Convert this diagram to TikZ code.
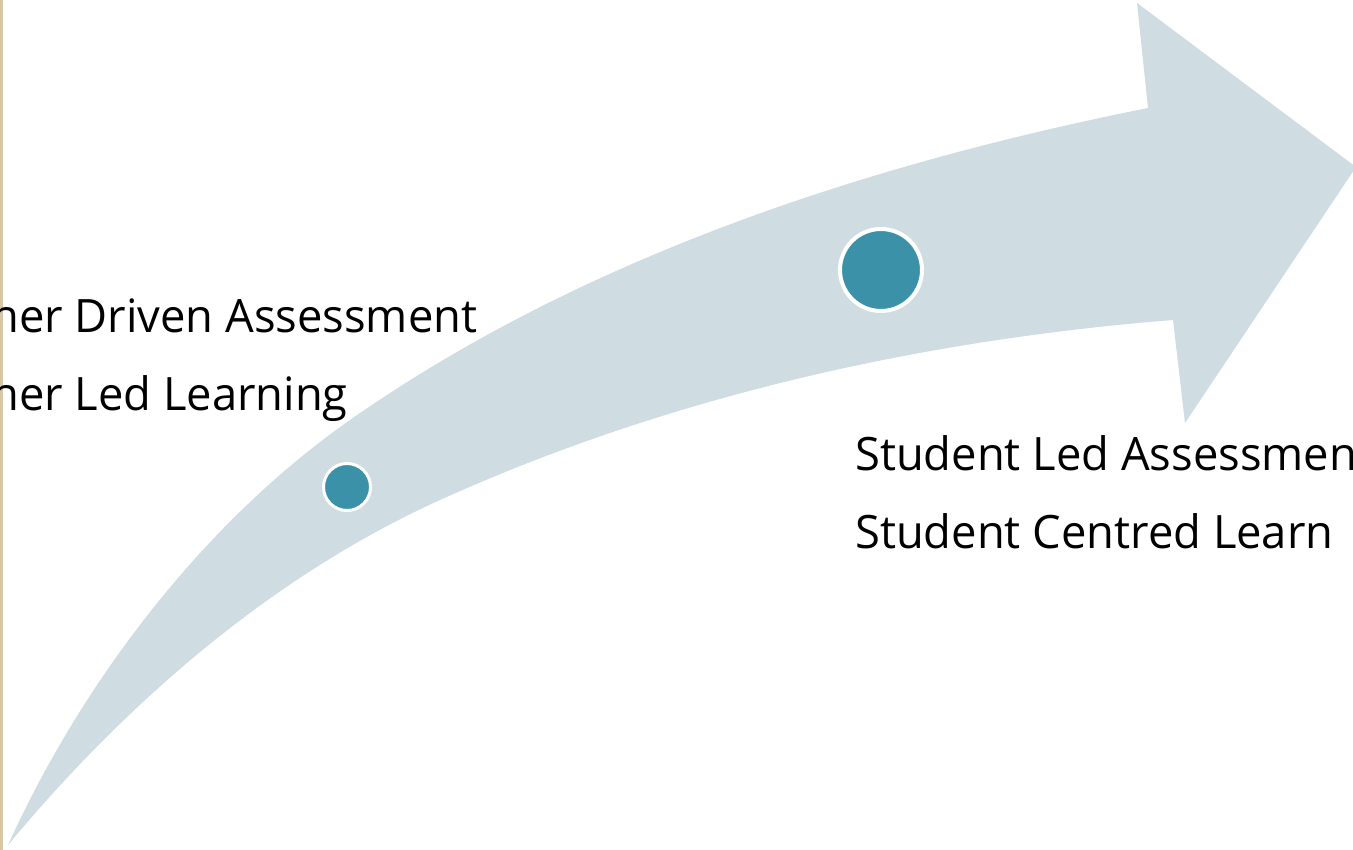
\documentclass[tikz,border=0pt]{standalone}
\usepackage{fontspec}
\setmainfont{Open Sans}[FakeStretch=0.985]
\definecolor{arrowfill}{RGB}{207,220,226}
\definecolor{dotfill}{RGB}{58,145,168}
\definecolor{stripcol}{RGB}{214,200,166}
\begin{document}
\begin{tikzpicture}[x=1pt,y=-1pt,
  lbl/.style={font=\fontsize{46}{50}\selectfont, inner sep=0pt, anchor=base west, text=black},
  dot/.style={circle, fill=dotfill, draw=white, inner sep=0pt}]
\useasboundingbox (0,0) rectangle (1353,850);
\fill[white] (0,0) rectangle (1353,850);
\fill[stripcol] (0,0) rectangle (3,850);
% curved arrow
\fill[arrowfill] (8,845) .. controls (82,682) and (203,523) .. (350,420)
  .. controls (583,257) and (868,164) .. (1148,108)
  -- (1137,3) -- (1356,167) -- (1185,423) -- (1173,320)
  .. controls (922,340) and (670,396) .. (440,500)
  .. controls (272,576) and (126,703) .. (8,845) -- cycle;
% dots
\node[dot, minimum size=47pt, line width=3pt] (d1) at (347,487) {};
\node[dot, minimum size=82pt, line width=4pt] (d2) at (881,270) {};
% texts
\node[lbl] (t1) at (-9,333) {her Driven Assessment};
\node[lbl] (t2) at (-9,410) {her Led Learning};
\node[lbl] (t3) at (855,470) {Student Led Assessmen};
\node[lbl] (t4) at (855,548) {Student Centred Learn};
\end{tikzpicture}
\end{document}
